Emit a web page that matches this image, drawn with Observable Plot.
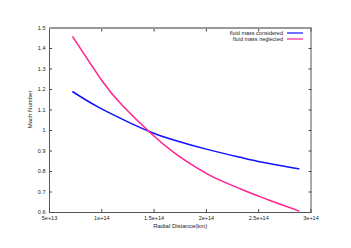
<!DOCTYPE html>
<html>
<head>
<meta charset="utf-8">
<script src="https://cdn.jsdelivr.net/npm/d3@7"></script>
<script src="https://cdn.jsdelivr.net/npm/@observablehq/plot@0.6"></script>
<style>
  html, body { margin: 0; padding: 0; background: #fff; }
  #chart { position: relative; width: 351px; height: 248px; }
  .legend { position: absolute; right: 48px; top: 30px; font: 5.5px "Liberation Sans", Arial, sans-serif; color: #222; }
  .legend div { display: flex; align-items: center; justify-content: flex-end; height: 6px; }
  .legend svg { margin-left: 4px; }
</style>
</head>
<body>
<div id="chart"></div>
<script>
// Radial distance (km) and Mach number
const xConsidered = [7.23e13, 8.44e13, 9.71e13, 1.131e14, 1.274e14, 1.466e14, 1.688e14, 2.008e14, 2.326e14, 2.549e14, 2.883e14];
const machConsidered = [1.189, 1.150, 1.113, 1.071, 1.036, 0.993, 0.954, 0.908, 0.869, 0.844, 0.813];
const xNeglected = [7.23e13, 1.004e14, 1.195e14, 1.466e14, 1.688e14, 1.848e14, 2.02e14, 2.183e14, 2.374e14, 2.549e14, 2.708e14, 2.883e14];
const machNeglected = [1.457, 1.2415, 1.123, 0.988, 0.893, 0.837, 0.785, 0.746, 0.705, 0.670, 0.640, 0.608];
const seriesNames = ["fluid mass considered", "fluid mass neglected"];
const seriesColors = ["#1010ff", "#ff2090"];
const xTicks = [5e13, 1e14, 1.5e14, 2e14, 2.5e14, 3e14];
const xTickLabels = ["5e+13", "1e+14", "1.5e+14", "2e+14", "2.5e+14", "3e+14"];
const yTicks = [0.6, 0.7, 0.8, 0.9, 1, 1.1, 1.2, 1.3, 1.4, 1.5];
const yTickLabels = ["0.6", "0.7", "0.8", "0.9", "1", "1.1", "1.2", "1.3", "1.4", "1.5"];

const data = [
  ...xConsidered.map((x, i) => ({x, y: machConsidered[i], s: seriesNames[0]})),
  ...xNeglected.map((x, i) => ({x, y: machNeglected[i], s: seriesNames[1]}))
];

const fmtX = d => xTickLabels[xTicks.indexOf(d)];
const fmtY = d => yTickLabels[yTicks.findIndex(t => Math.abs(t - d) < 1e-9)];

const plot = Plot.plot({
  width: 351,
  height: 248,
  marginLeft: 49,
  marginRight: 40.5,
  marginTop: 27.5,
  marginBottom: 36,
  style: {fontFamily: "'Liberation Sans', Arial, sans-serif", fontSize: "5.5px", background: "#fff", color: "#222"},
  x: {domain: [5e13, 3e14]},
  y: {domain: [0.6, 1.5]},
  color: {domain: seriesNames, range: seriesColors},
  marks: [
    Plot.axisX({ticks: xTicks, tickFormat: fmtX, tickSize: 0, tickPadding: 4, label: null}),
    Plot.axisX({ticks: xTicks, tickSize: -3, text: null, label: null, stroke: "#444"}),
    Plot.axisX({anchor: "top", ticks: xTicks, tickSize: -3, text: null, label: null, stroke: "#444"}),
    Plot.axisY({ticks: yTicks, tickFormat: fmtY, tickSize: 0, tickPadding: 4, label: null}),
    Plot.axisY({ticks: yTicks, tickSize: -3, text: null, label: null, stroke: "#444"}),
    Plot.axisY({anchor: "right", ticks: yTicks, tickSize: -3, text: null, label: null, stroke: "#444"}),
    Plot.frame({stroke: "#555"}),
    Plot.ruleY([1.5], {stroke: "#999", strokeWidth: 2}),
    Plot.line(data, {x: "x", y: "y", z: "s", stroke: "s", strokeWidth: 1.5, curve: "natural"}),
    Plot.text(["Mach Number"], {frameAnchor: "left", dx: -19, dy: 8, rotate: -90, fontSize: 6}),
    Plot.text(["Radial Distance(km)"], {frameAnchor: "bottom", dy: 15, fontSize: 6})
  ]
});
document.getElementById("chart").appendChild(plot);

const legend = document.createElement("div");
legend.className = "legend";
seriesNames.forEach((n, i) => {
  const row = document.createElement("div");
  row.innerHTML = `<span>${n}</span><svg width="16" height="4"><line x1="0" x2="16" y1="2" y2="2" stroke="${seriesColors[i]}" stroke-width="1.2"/></svg>`;
  legend.appendChild(row);
});
document.getElementById("chart").appendChild(legend);
</script>
</body>
</html>
